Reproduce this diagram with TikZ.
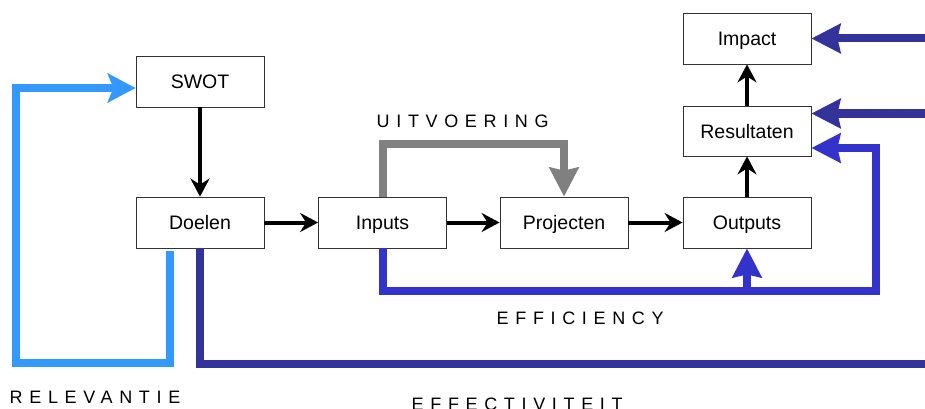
\documentclass[tikz,border=0pt]{standalone}
\usepackage{fontspec}
\setmainfont{Liberation Sans}
\newfontfamily\spacedfont[LetterSpace=37]{Liberation Sans}
\usetikzlibrary{arrows.meta}
\definecolor{lblue}{HTML}{3399FF}
\definecolor{dblue}{HTML}{333399}
\definecolor{mblue}{HTML}{3333CC}
\definecolor{grayline}{HTML}{808080}
\tikzset{
  box/.style={draw=black!80, line width=0.8pt, fill=white, minimum width=128pt, minimum height=51pt, inner sep=0pt, text height=14pt, text depth=0pt, font=\fontsize{19.5}{22}\selectfont},
  blk/.style={line width=4pt, black, -{Stealth[length=18pt,width=19pt,inset=6pt]}},
  bigtip/.style={-{Stealth[length=29pt,width=29pt,inset=3pt]}},
  lbline/.style={line width=8pt, lblue},
  dbline/.style={line width=8pt, dblue},
  mbline/.style={line width=8pt, mblue},
  grline/.style={line width=8pt, grayline},
  lbl/.style={anchor=base west, inner sep=0pt, font=\spacedfont\fontsize{18}{22}\selectfont}
}
\begin{document}
\begin{tikzpicture}[x=1pt,y=-1pt]
\useasboundingbox (0,0) rectangle (925,409);
\node[box] (swot) at (200,81.5) {SWOT};
\node[box] (doelen) at (200,222.5) {Doelen};
\node[box] (inputs) at (382.5,222.5) {Inputs};
\node[box] (projecten) at (564,222.5) {Projecten};
\node[box] (outputs) at (747,222.5) {Outputs};
\node[box, minimum height=50pt] (resultaten) at (747,131) {Resultaten};
\node[box] (impact) at (747,38.5) {Impact};

\draw[blk] (swot) -- (doelen);
\draw[blk] (doelen) -- (inputs);
\draw[blk] (inputs) -- (projecten);
\draw[blk] (projecten) -- (outputs);
\draw[blk] (outputs) -- (resultaten);
\draw[blk] (resultaten) -- (impact);

% relevantie
\coordinate (rel1) at (16,363);
\draw[lbline, -{Stealth[length=28pt,width=29pt,inset=6pt]}] ([xshift=-30.5pt,yshift=-3pt]doelen.south) |- (rel1) |- ([yshift=-6.5pt]swot.west);

% effectiviteit
\coordinate (eff1) at (926,364);
\draw[dbline] (doelen.south) |- (eff1);
\coordinate (impin) at (926,38.5);
\coordinate (resin) at (926,113.5);
\draw[dbline, bigtip] (impin) -- (impact.east);
\draw[dbline, bigtip] (resin) -- ([yshift=17.5pt]resultaten.east);

% efficiency
\coordinate (ef1) at (876,291);
\coordinate (efb) at (747,291);
\draw[mbline, bigtip] (inputs.south) |- (ef1) |- ([yshift=-17pt]resultaten.east);
\draw[mbline, bigtip] (efb) -- (outputs.south);

% uitvoering
\coordinate (u1) at (564,144);
\draw[grline, bigtip] (inputs.north) |- (u1) -- (projecten.north);

% labels
\node[lbl] (luit) at (376.5,127) {UITVOERING};
\node[lbl] (leff) at (496.5,324) {EFFICIENCY};
\node[lbl] (lect) at (411.5,410) {EFFECTIVITEIT};
\node[lbl] (lrel) at (9.5,403) {RELEVANTIE};
\end{tikzpicture}
\end{document}
